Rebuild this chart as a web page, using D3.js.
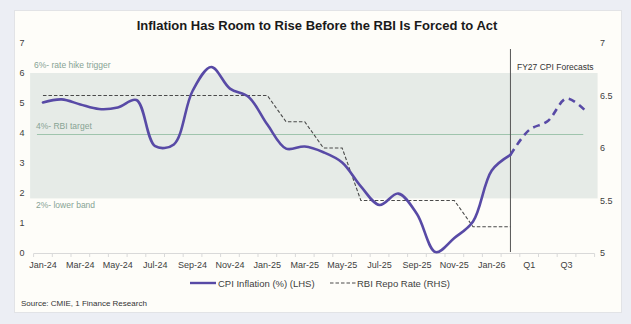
<!DOCTYPE html>
<html>
<head>
<meta charset="utf-8">
<script src="https://cdn.jsdelivr.net/npm/d3@7"></script>
<style>
  body { margin: 0; background: #eceef4; }
  svg { display: block; font-family: "Liberation Sans", Arial, sans-serif; }
</style>
</head>
<body>
<div class="chart"></div>
<script>
// categories: monthly Jan-24 .. Feb-26, then FY27 quarters
var months = ["Jan-24","Feb-24","Mar-24","Apr-24","May-24","Jun-24","Jul-24","Aug-24","Sep-24","Oct-24","Nov-24","Dec-24",
              "Jan-25","Feb-25","Mar-25","Apr-25","May-25","Jun-25","Jul-25","Aug-25","Sep-25","Oct-25","Nov-25","Dec-25",
              "Jan-26","Feb-26"];
var quarters = ["Q1","Q2","Q3","Q4"];
var categories = months.concat(quarters);

// CPI inflation (%), actual
var cpiActual = [5.02, 5.12, 4.95, 4.8, 4.85, 5.1, 3.56, 3.62, 5.4, 6.2, 5.48, 5.2,
                 4.28, 3.48, 3.55, 3.36, 3.02, 2.22, 1.6, 1.98, 1.3, 0.03, 0.5, 1.05,
                 2.75, 3.27];
// CPI forecasts (from Feb-26 onward)
var cpiForecastCats = ["Feb-26","Q1","Q2","Q3","Q4"];
var cpiForecast = [3.27, 4.1, 4.4, 5.15, 4.75];

// RBI repo rate (%), right axis
var repoRate = [6.5, 6.5, 6.5, 6.5, 6.5, 6.5, 6.5, 6.5, 6.5, 6.5, 6.5, 6.5,
                6.5, 6.25, 6.25, 6.0, 6.0, 5.5, 5.5, 5.5, 5.5, 5.5, 5.5, 5.25,
                5.25, 5.25];

var leftTicks = [0, 1, 2, 3, 4, 5, 6, 7];
var rightTicks = [5, 5.5, 6, 6.5, 7];
var bandLevels = [1.82, 6];   // shaded comfort band
var targetLevel = 3.95;       // 4% RBI target line

var width = 631, height = 324;

var svg = d3.select(".chart").append("svg")
    .attr("width", width)
    .attr("height", height);

// card
svg.append("rect")
    .attr("x", 14.5).attr("y", 10.5)
    .attr("width", 607).attr("height", 302)
    .attr("fill", "#fefdf9")
    .attr("stroke", "#e2e3e6");

var x = d3.scaleBand().domain(categories).range([33.6, 594.6]).paddingInner(0);
var xc = function(d) { return x(d) + x.bandwidth() / 2; };
var yL = d3.scaleLinear().domain([0, 7]).range([253, 43]);
var yR = d3.scaleLinear().domain([5, 7]).range([253, 43]);

// shaded band 2%-6%
svg.append("rect")
    .attr("x", x.range()[0] - 3.5)
    .attr("y", yL(bandLevels[1]))
    .attr("width", x.range()[1] - x.range()[0] + 6.5)
    .attr("height", yL(bandLevels[0]) - yL(bandLevels[1]))
    .attr("fill", "#e6ebe7");

// target line
svg.append("line")
    .attr("x1", xc(categories[0]) - 6)
    .attr("x2", xc(categories[categories.length - 1]) - 2)
    .attr("y1", yL(targetLevel)).attr("y2", yL(targetLevel))
    .attr("stroke", "#9fc4ad")
    .attr("stroke-width", 1.2);

// band labels
var bandLabelColor = "#86a394";
svg.append("text").attr("x", 34).attr("y", 67.5).text("6%- rate hike trigger")
    .attr("font-size", "8.5px").attr("fill", bandLabelColor);
svg.append("text").attr("x", 36).attr("y", 128.5).text("4%- RBI target")
    .attr("font-size", "8.5px").attr("fill", bandLabelColor);
svg.append("text").attr("x", 36).attr("y", 207.5).text("2%- lower band")
    .attr("font-size", "8.5px").attr("fill", bandLabelColor);

// x axis baseline + ticks between categories
svg.append("line")
    .attr("x1", x.range()[0]).attr("x2", x.range()[1])
    .attr("y1", 253.5).attr("y2", 253.5)
    .attr("stroke", "#d9d9d9");
svg.selectAll(".xtick")
    .data(categories.concat(["end"]))
    .enter().append("line")
    .attr("x1", function(d, i) { return x.range()[0] + i * x.step(); })
    .attr("x2", function(d, i) { return x.range()[0] + i * x.step(); })
    .attr("y1", 253.5).attr("y2", 257)
    .attr("stroke", "#d9d9d9");

var xAxis = d3.axisBottom(x)
    .tickSize(0)
    .tickFormat(function(d, i) { return i % 2 === 0 ? d : ""; });
var gx = svg.append("g")
    .attr("transform", "translate(0,259)")
    .call(xAxis);
gx.select(".domain").remove();
gx.selectAll("text").attr("font-size", "9px").attr("fill", "#404040")
    .attr("dy", "0.71em").attr("font-family", "Liberation Sans, Arial, sans-serif");

// left axis labels
svg.selectAll(".ly")
    .data(leftTicks)
    .enter().append("text")
    .attr("x", 24.5)
    .attr("y", function(d) { return yL(d); })
    .attr("dy", "0.35em")
    .attr("text-anchor", "end")
    .attr("font-size", "9px")
    .attr("fill", "#404040")
    .text(function(d) { return d; });

// right axis labels
svg.selectAll(".ry")
    .data(rightTicks)
    .enter().append("text")
    .attr("x", 600)
    .attr("y", function(d) { return yR(d); })
    .attr("dy", "0.35em")
    .attr("font-size", "9px")
    .attr("fill", "#404040")
    .text(function(d) { return d; });

// forecast divider
var divX = xc("Feb-26");
svg.append("line")
    .attr("x1", divX).attr("x2", divX)
    .attr("y1", 49).attr("y2", 252)
    .attr("stroke", "#555")
    .attr("stroke-width", 1);
svg.append("text").attr("x", 517).attr("y", 70).text("FY27 CPI Forecasts")
    .attr("font-size", "8.5px").attr("fill", "#333");

// repo rate (RHS)
var repoLine = d3.line()
    .x(function(d, i) { return xc(months[i]); })
    .y(function(d) { return yR(d); });
svg.append("path")
    .datum(repoRate)
    .attr("d", repoLine)
    .attr("fill", "none")
    .attr("stroke", "#4a4a4a")
    .attr("stroke-width", 1.1)
    .attr("stroke-dasharray", "3.5,2");

// CPI actual
var cpiColor = "#584aa6";
var cpiLine = d3.line()
    .x(function(d, i) { return xc(months[i]); })
    .y(function(d) { return yL(d); })
    .curve(d3.curveCatmullRom.alpha(0.5));
svg.append("path")
    .datum(cpiActual)
    .attr("d", cpiLine)
    .attr("fill", "none")
    .attr("stroke", cpiColor)
    .attr("stroke-width", 2.6)
    .attr("stroke-linecap", "round");

// CPI forecast
var fcLine = d3.line()
    .x(function(d, i) { return xc(cpiForecastCats[i]); })
    .y(function(d) { return yL(d); })
    .curve(d3.curveCatmullRom.alpha(0.5));
svg.append("path")
    .datum(cpiForecast)
    .attr("d", fcLine)
    .attr("fill", "none")
    .attr("stroke", cpiColor)
    .attr("stroke-width", 2.6)
    .attr("stroke-dasharray", "7,5");

// title
svg.append("text")
    .attr("x", 317).attr("y", 29.5)
    .attr("text-anchor", "middle")
    .attr("font-size", "13px")
    .attr("font-weight", "bold")
    .attr("fill", "#1a1a1a")
    .text("Inflation Has Room to Rise Before the RBI Is Forced to Act");

// legend
svg.append("line").attr("x1", 190).attr("x2", 216).attr("y1", 283).attr("y2", 283)
    .attr("stroke", cpiColor).attr("stroke-width", 2.4);
svg.append("text").attr("x", 218).attr("y", 286.5).text("CPI Inflation (%) (LHS)")
    .attr("font-size", "9.5px").attr("fill", "#404040");
svg.append("line").attr("x1", 330).attr("x2", 356).attr("y1", 283).attr("y2", 283)
    .attr("stroke", "#4a4a4a").attr("stroke-width", 1.1).attr("stroke-dasharray", "3.5,2");
svg.append("text").attr("x", 357).attr("y", 286.5).text("RBI Repo Rate (RHS)")
    .attr("font-size", "9.5px").attr("fill", "#404040");

// source
svg.append("text").attr("x", 21).attr("y", 306).text("Source: CMIE, 1 Finance Research")
    .attr("font-size", "8px").attr("fill", "#333");
</script>
</body>
</html>
